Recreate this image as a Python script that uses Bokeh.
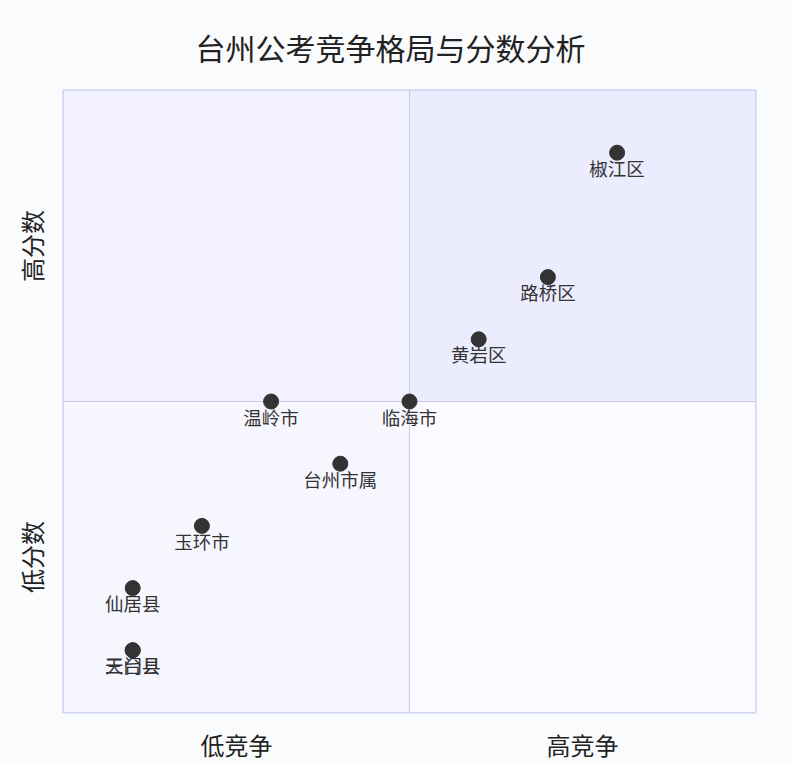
from bokeh.plotting import figure
from bokeh.models import ColumnDataSource, Range1d, FixedTicker, Title
from bokeh.core.properties import value
from bokeh.embed import file_html
from bokeh.resources import INLINE

districts = ["椒江区", "路桥区", "黄岩区", "温岭市", "临海市", "台州市属", "玉环市", "仙居县", "三门县", "天台县"]
competition = [0.8, 0.7, 0.6, 0.3, 0.5, 0.4, 0.2, 0.1, 0.1, 0.1]
score = [0.9, 0.7, 0.6, 0.5, 0.5, 0.4, 0.3, 0.2, 0.1, 0.1]

x_labels = {0.25: "低竞争", 0.75: "高竞争"}
y_labels = {0.25: "低分数", 0.75: "高分数"}

# quadrants: 1 top-right, 2 top-left, 3 bottom-left, 4 bottom-right
q_left = [0.5, 0.0, 0.0, 0.5]
q_right = [1.0, 0.5, 0.5, 1.0]
q_bottom = [0.5, 0.5, 0.0, 0.0]
q_top = [1.0, 1.0, 0.5, 0.5]
q_fill = ["#ECECFF", "#F1F1FF", "#F6F6FF", "#FBFBFF"]

# internal dividers between quadrants
div_x0 = [0.5, 0.0]
div_x1 = [0.5, 1.0]
div_y0 = [0.0, 0.5]
div_y1 = [1.0, 0.5]

FONT = "Noto Sans CJK SC"
BORDER = "#c8c8f2"

p = figure(width=791, height=764, output_backend="svg", toolbar_location=None,
           x_range=Range1d(0, 1), y_range=Range1d(0, 1),
           min_border_left=63, min_border_right=36, min_border_top=90, min_border_bottom=43)
p.background_fill_color = "#fafbfd"
p.border_fill_color = "#fafbfd"
p.outline_line_color = BORDER
p.outline_line_width = 2
p.grid.visible = False

p.title.text = "台州公考竞争格局与分数分析"
p.title.text_font = FONT
p.title.text_font_size = "30px"
p.title.text_font_style = "normal"
p.title.text_color = "#222222"
p.title.align = "left"
p.title.offset = 132

# thin empty title as spacer between the frame and the real title
p.add_layout(Title(text=" ", text_font_size="4px"), "above")

p.quad(left=q_left, right=q_right, bottom=q_bottom, top=q_top,
       fill_color=q_fill, line_color=None)
p.segment(x0=div_x0, y0=div_y0, x1=div_x1, y1=div_y1, line_color=BORDER, line_width=1)

src = ColumnDataSource(data=dict(x=competition, y=score, name=districts))
p.scatter("x", "y", source=src, size=15, fill_color="#333333", line_color="#333333")
p.text("x", "y", text="name", source=src, text_font=value(FONT), text_font_size="18.5px",
       text_color="#333333", text_align="center", text_baseline="middle", y_offset=15)

for ax, labels in ((p.xaxis[0], x_labels), (p.yaxis[0], y_labels)):
    ax.ticker = FixedTicker(ticks=list(labels.keys()))
    ax.major_label_overrides = labels
    ax.axis_line_color = None
    ax.major_tick_line_color = None
    ax.minor_tick_line_color = None
    ax.major_label_text_font = FONT
    ax.major_label_text_font_size = "24px"
    ax.major_label_text_color = "#222222"
p.xaxis.major_label_standoff = 8
p.yaxis.major_label_standoff = 9
p.yaxis.major_label_orientation = "parallel"

open("out.html", "w").write(file_html(p, INLINE))
